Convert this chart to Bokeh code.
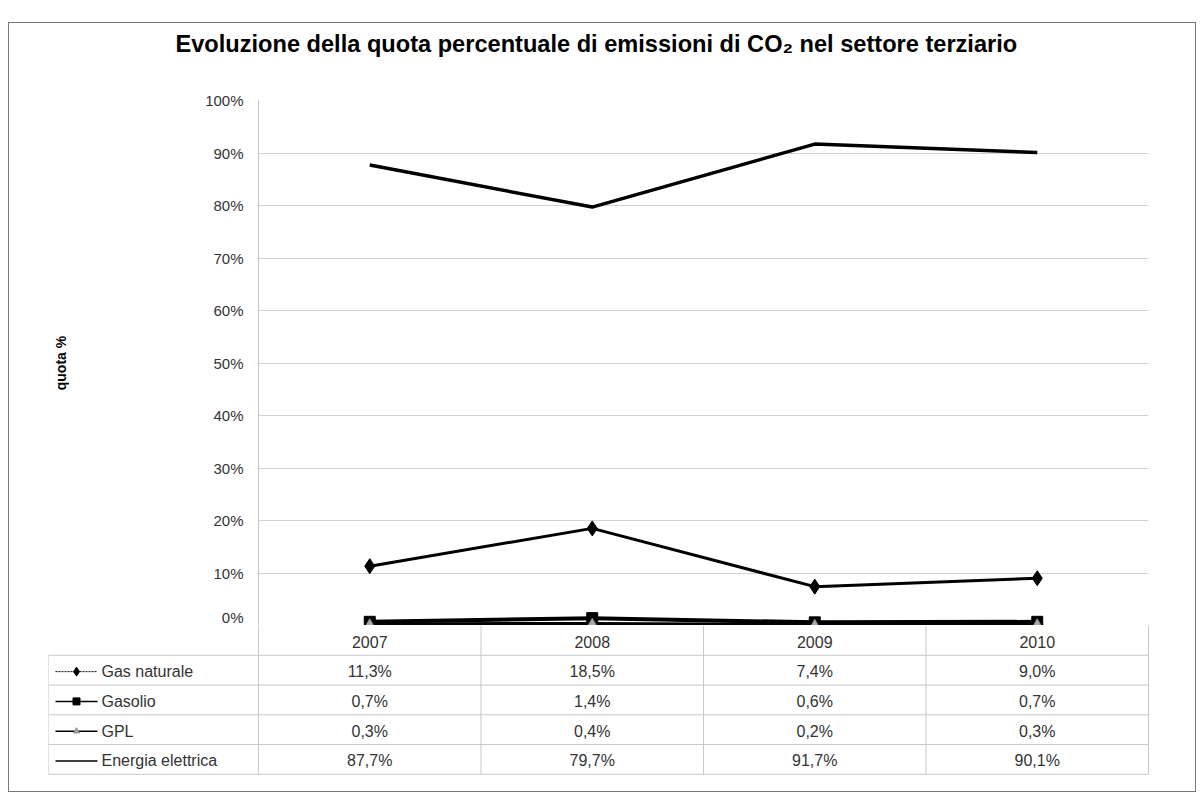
from bokeh.plotting import figure
from bokeh.models import Range1d, FixedTicker, ColumnDataSource, Title
from bokeh.layouts import column
from bokeh.embed import file_html
from bokeh.resources import INLINE
from bokeh.core.properties import value

# ---------------- data ----------------
years = ["2007", "2008", "2009", "2010"]
series_names = ["Gas naturale", "Gasolio", "GPL", "Energia elettrica"]
gas_naturale = [11.3, 18.5, 7.4, 9.0]
gasolio = [0.7, 1.4, 0.6, 0.7]
gpl = [0.3, 0.4, 0.2, 0.3]
energia_elettrica = [87.7, 79.7, 91.7, 90.1]
y_ticks = [0, 10, 20, 30, 40, 50, 60, 70, 80, 90, 100]
title_text = "Evoluzione della quota percentuale di emissioni di CO\u2082 nel settore terziario"
y_label = "quota %"

FONT = "Liberation Sans"
TXT = "#333333"
xs = list(range(len(years)))

# ---------------- chart ----------------
W = 1186
FRAME_W = 890
p1 = figure(width=W, height=602, x_range=Range1d(-0.5, len(years) - 0.5),
            y_range=Range1d(0, 100), output_backend="svg", toolbar_location=None,
            x_axis_location=None, min_border_left=249, min_border_right=W - 249 - FRAME_W,
            min_border_top=75, min_border_bottom=0)
p1.frame_align = False
p1.outline_line_color = None
p1.border_fill_color = "white"
p1.xgrid.visible = False

p1.title.text = title_text
p1.title.text_font = FONT
p1.title.text_font_size = "23.6px"
p1.title.text_font_style = "bold"
p1.title.text_color = "black"
p1.title.align = "left"
p1.title.offset = -83
# empty spacer between the title and the plotting area
p1.add_layout(Title(text=" ", text_font_size="24px"), "above")

ax = p1.yaxis[0]
ax.ticker = FixedTicker(ticks=y_ticks)
ax.major_label_overrides = {t: f"{t}%" for t in y_ticks}
ax.major_label_text_font = FONT
ax.major_label_text_font_size = "15px"
ax.major_label_text_color = TXT
ax.major_label_standoff = 9
ax.major_tick_line_color = None
ax.minor_tick_line_color = None
ax.axis_line_color = "#c8c8c8"
ax.axis_label = y_label
ax.axis_label_text_font = FONT
ax.axis_label_text_font_size = "14px"
ax.axis_label_text_font_style = "bold"
ax.axis_label_text_color = "black"
ax.axis_label_standoff = 133
p1.ygrid.grid_line_color = "#d2d2d2"

src = ColumnDataSource(dict(x=xs, gas=gas_naturale, gasolio=gasolio, gpl=gpl, ee=energia_elettrica))
p1.line("x", "ee", source=src, line_color="black", line_width=3.5)
p1.line("x", "gas", source=src, line_color="black", line_width=3)
p1.scatter("x", "gas", source=src, marker="diamond", size=15, fill_color="black", line_color="black")
p1.line("x", "gasolio", source=src, line_color="black", line_width=4)
p1.scatter("x", "gasolio", source=src, marker="square", size=11, fill_color="black", line_color="black")
p1.line("x", "gpl", source=src, line_color="black", line_width=3)
p1.scatter("x", "gpl", source=src, marker="triangle", size=9, fill_color="#a8a8a8", line_color="#888888")

# ---------------- data table ----------------
PX = FRAME_W / len(years)      # pixels per category
left = -0.5 - 210 / PX         # table starts left of the chart frame
def px(d):
    return left + d / PX

nrow = len(series_names)
p2 = figure(width=W, height=166, x_range=Range1d(left, len(years) - 0.5 + 1 / PX),
            y_range=Range1d(nrow + 1 + 0.04, 0), output_backend="svg", toolbar_location=None,
            x_axis_location=None, y_axis_location=None, min_border_left=39,
            min_border_right=W - 249 - FRAME_W - 1, min_border_top=0, min_border_bottom=16)
p2.frame_align = False
p2.outline_line_color = None
p2.xgrid.visible = False
p2.ygrid.visible = False
p2.border_fill_color = "white"

gcol = "#c8c8c8"
right = len(years) - 0.5
# horizontal rules
hy = [float(i) for i in range(1, nrow + 2)]
p2.segment(x0=[left] * len(hy), y0=hy, x1=[right] * len(hy), y1=hy, line_color=gcol, line_width=1)
# vertical rules
vx = [i - 0.5 for i in range(len(years) + 1)]
p2.segment(x0=vx, y0=[0.0] * len(vx), x1=vx, y1=[nrow + 1.0] * len(vx), line_color=gcol, line_width=1)
p2.segment(x0=[left], y0=[1.0], x1=[left], y1=[nrow + 1.0], line_color=gcol, line_width=1)

# header years
p2.text(x=xs, y=[0.55] * len(years), text=years, text_font=value(FONT), text_font_size="16px",
        text_color=TXT, text_align="center", text_baseline="middle")

all_series = [gas_naturale, gasolio, gpl, energia_elettrica]
for r, vals in enumerate(all_series):
    labels = [f"{v:.1f}%".replace(".", ",") for v in vals]
    p2.text(x=xs, y=[r + 1.55] * len(years), text=labels, text_font=value(FONT),
            text_font_size="16px", text_color=TXT, text_align="center", text_baseline="middle")

# legend keys
ky = [r + 1.55 for r in range(nrow)]
p2.text(x=[px(53)] * nrow, y=ky, text=series_names, text_font=value(FONT), text_font_size="16px",
        text_color=TXT, text_align="left", text_baseline="middle")
# Gas naturale: dotted line + diamond
p2.line([px(7), px(49)], [ky[0], ky[0]], line_color="black", line_width=1, line_dash="2 1")
p2.scatter([px(28)], [ky[0]], marker="diamond", size=9, fill_color="black", line_color="black")
# Gasolio: line + square
p2.line([px(7), px(49)], [ky[1], ky[1]], line_color="black", line_width=1.5)
p2.scatter([px(28)], [ky[1]], marker="square", size=7, fill_color="black", line_color="black")
# GPL: line + triangle
p2.line([px(7), px(49)], [ky[2], ky[2]], line_color="black", line_width=1.5)
p2.scatter([px(28)], [ky[2]], marker="triangle", size=6, fill_color="#a8a8a8", line_color="#888888")
# Energia elettrica: line
p2.line([px(7), px(49)], [ky[3], ky[3]], line_color="black", line_width=1.5)

layout = column(p1, p2, spacing=0,
                styles={"border": "1px solid #777777", "margin-top": "22px",
                        "margin-left": "8px", "background": "white"})

open("out.html", "w").write(file_html(layout, INLINE))
